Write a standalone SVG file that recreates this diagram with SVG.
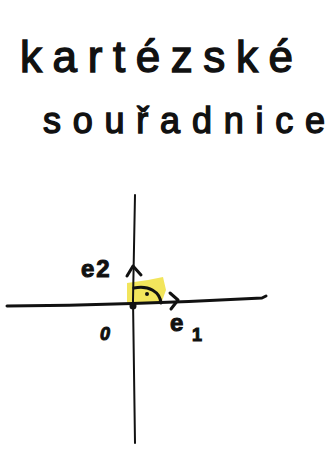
<svg xmlns="http://www.w3.org/2000/svg" width="336" height="453" viewBox="0 0 336 453">
<style>
.hand{font-family:"Liberation Sans","DejaVu Sans",sans-serif;fill:#111;stroke:#111;stroke-width:1.4}
.lbl{font-family:"Liberation Sans","DejaVu Sans",sans-serif;fill:#111;stroke:#111;stroke-width:1;font-weight:bold}
.ink{fill:none;stroke:#111;stroke-linecap:round;stroke-linejoin:round}
</style>
<rect width="336" height="453" fill="#fff"/>
<g id="title">
<text class="hand" x="20" y="72" font-size="44" textLength="273" lengthAdjust="spacing">kartézské</text>
<text class="hand" x="43" y="133" font-size="36" textLength="282" lengthAdjust="spacing">souřadnice</text>
</g>
<g id="highlight">
<path d="M127,304 L127,283 L148,280 L163,277 L166,290 L161,304 Z" fill="#f0e040" opacity="0.85"/>
</g>
<g id="connectors">
<path id="x-axis" class="ink" stroke-width="3" d="M7,306 Q130,305 262,298 L266,296"/>
<path id="y-axis" class="ink" stroke="#1a2440" stroke-width="2" d="M135,195 L133,300 L135,443"/>
<path id="e2-head" class="ink" stroke-width="3" d="M127,276 L133,266 L141,275"/>
<path id="e1-head" class="ink" stroke-width="3" d="M170,293 L178,300 L171,309"/>
<path id="right-angle" class="ink" stroke-width="3" d="M134,288 C149,285 160,292 161,303"/>
</g>
<g id="origin">
<circle cx="133" cy="306" r="3.5" fill="#111"/>
<circle cx="147" cy="294" r="2" fill="#111"/>
</g>
<g id="labels">
<text class="lbl" x="81" y="277" font-size="24" letter-spacing="2">e2</text>
<text class="lbl" x="100" y="340" font-size="18" font-style="italic">0</text>
<text class="lbl" x="170" y="331" font-size="24">e<tspan x="192" y="341" font-size="18">1</tspan></text>
</g>
</svg>
